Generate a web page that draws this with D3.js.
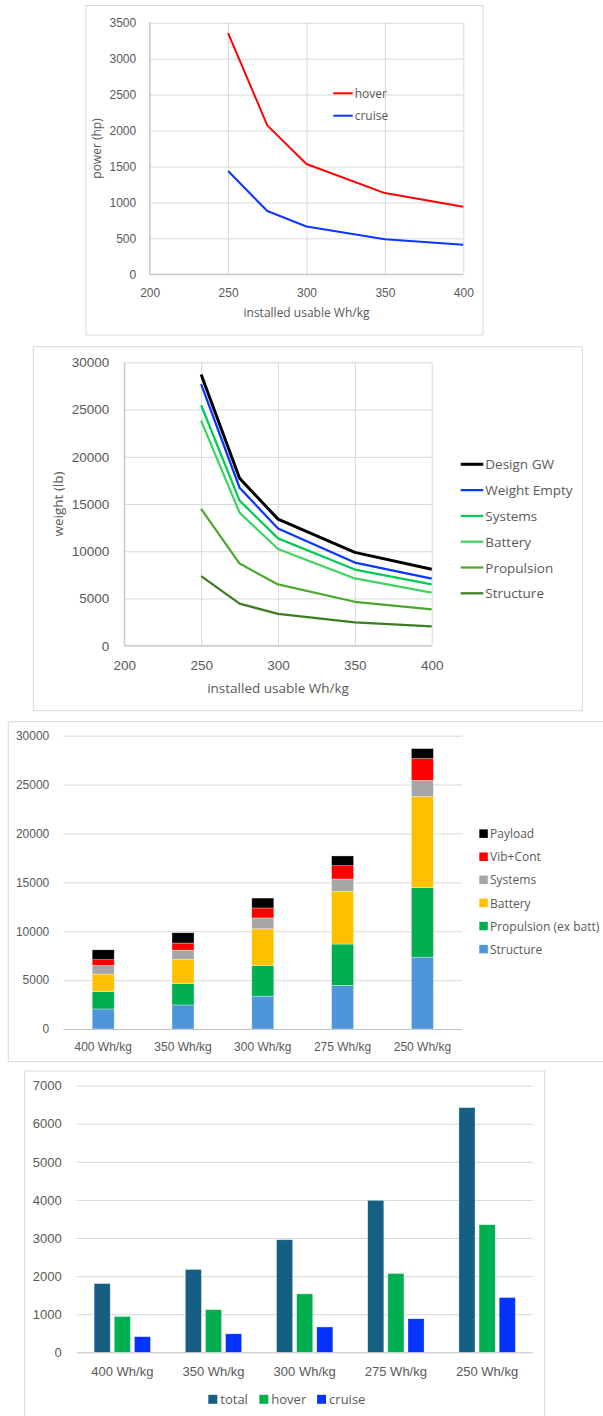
<!DOCTYPE html>
<html>
<head>
<meta charset="utf-8">
<script src="https://cdn.jsdelivr.net/npm/d3@7"></script>
<style>
  html, body { margin: 0; padding: 0; background: #fff; }
  svg { display: block; font-family: "Open Sans", sans-serif; }
  .tick text { fill: #595959; }
</style>
</head>
<body>
<svg id="page" width="603" height="1416"></svg>
<script>
// ---- Power vs battery specific energy (line chart) ----
const whPerKg = [250, 275, 300, 350, 400];
const hoverHp = [3355, 2072, 1535, 1130, 940];
const cruiseHp = [1437, 880, 665, 488, 410];
const whTicks = [200, 250, 300, 350, 400];
const powerTicks = [0, 500, 1000, 1500, 2000, 2500, 3000, 3500];

// ---- Weight build-up vs battery specific energy (line chart) ----
const designGW = [28700, 17720, 13400, 9880, 8100];
const weightEmpty = [27700, 16720, 12400, 8800, 7100];
const systemsCum = [25450, 15360, 11360, 8060, 6500];
const batteryCum = [23820, 14080, 10240, 7120, 5615];
const propulsionCum = [14480, 8690, 6490, 4650, 3835];
const structureCum = [7360, 4455, 3360, 2465, 2047];
const weightTicks = [0, 5000, 10000, 15000, 20000, 25000, 30000];

// ---- Weight breakdown (stacked bars) ----
const cases = ["400 Wh/kg", "350 Wh/kg", "300 Wh/kg", "275 Wh/kg", "250 Wh/kg"];
const structure = [2050, 2460, 3360, 4460, 7350];
const propulsionExBatt = [1790, 2190, 3130, 4230, 7110];
const battery = [1780, 2460, 3760, 5370, 9320];
const systems = [880, 955, 1110, 1280, 1650];
const vibCont = [590, 725, 1020, 1360, 2230];
const payload = [1010, 1050, 1010, 1000, 1020];

// ---- Installed power (grouped bars) ----
const totalPower = [1805, 2175, 2955, 3990, 6425];
const hoverPower = [940, 1120, 1535, 2070, 3350];
const cruisePower = [410, 485, 665, 880, 1437];
const powerBarTicks = [0, 1000, 2000, 3000, 4000, 5000, 6000, 7000];

const svg = d3.select("#page");
const TEXT = "#595959", GRID = "#d9d9d9", AXIS = "#bfbfbf", FRAME = "#d9d9d9";

function panel(x, y, w, h) {
  svg.append("rect").attr("x", x).attr("y", y).attr("width", w).attr("height", h)
    .attr("fill", "#fff").attr("stroke", FRAME).attr("stroke-width", 1);
}

function styleAxis(g, size) {
  g.select(".domain").remove();
  g.selectAll(".tick line").attr("stroke", GRID).attr("stroke-width", 1);
  g.selectAll(".tick text").attr("fill", TEXT).style("font-size", size + "px");
}

// Scatter-style line chart with value x axis
function lineChart(o) {
  panel(o.frame[0], o.frame[1], o.frame[2], o.frame[3]);
  const x = d3.scaleLinear().domain([200, 400]).range(o.xr);
  const y = d3.scaleLinear().domain(o.ydom).range(o.yr);
  const g = svg.append("g");
  const w = o.xr[1] - o.xr[0], h = o.yr[0] - o.yr[1];

  const gy = g.append("g").attr("transform", `translate(${o.xr[0]},0)`)
    .call(d3.axisLeft(y).tickValues(o.yTicks).tickSize(-w).tickPadding(o.yPad).tickFormat(d3.format("d")));
  styleAxis(gy, o.font);
  const gx = g.append("g").attr("transform", `translate(0,${o.yr[0]})`)
    .call(d3.axisBottom(x).tickValues(whTicks).tickSize(-h).tickPadding(o.xPad).tickFormat(d3.format("d")));
  styleAxis(gx, o.font);

  // axis lines
  g.append("line").attr("x1", o.xr[0]).attr("x2", o.xr[0]).attr("y1", o.yr[0]).attr("y2", o.yr[1])
    .attr("stroke", AXIS);
  g.append("line").attr("x1", o.xr[0]).attr("x2", o.xr[1]).attr("y1", o.yr[0]).attr("y2", o.yr[0])
    .attr("stroke", AXIS);

  g.append("text").attr("x", (o.xr[0] + o.xr[1]) / 2).attr("y", o.xTitleY)
    .attr("text-anchor", "middle").attr("dominant-baseline", "central")
    .attr("fill", TEXT).style("font-size", o.font + "px").text("installed usable Wh/kg");
  g.append("text").attr("transform", `translate(${o.yTitleX},${(o.yr[0] + o.yr[1]) / 2}) rotate(-90)`)
    .attr("text-anchor", "middle").attr("dominant-baseline", "central")
    .attr("fill", TEXT).style("font-size", o.font + "px").text(o.yTitle);

  const line = d3.line().x((d, i) => x(whPerKg[i])).y(d => y(d));
  // draw bottom series first so upper ones sit on top
  o.series.slice().reverse().forEach(s => {
    g.append("path").attr("d", line(s.values)).attr("fill", "none")
      .attr("stroke", s.color).attr("stroke-width", s.width)
      .attr("stroke-linejoin", "round").attr("stroke-linecap", "butt");
  });

  const lg = g.append("g");
  o.series.forEach((s, i) => {
    const yy = o.legend.y + i * o.legend.dy;
    lg.append("line").attr("x1", o.legend.x).attr("x2", o.legend.x + o.legend.len)
      .attr("y1", yy).attr("y2", yy).attr("stroke", s.color).attr("stroke-width", s.width);
    lg.append("text").attr("x", o.legend.x + o.legend.len + 2).attr("y", yy)
      .attr("dominant-baseline", "central").attr("fill", TEXT)
      .style("font-size", o.legend.font + "px").text(s.name);
  });
}

lineChart({
  frame: [86, 5.5, 397, 329.5],
  xr: [149.7, 463.3], yr: [274.3, 22.7], ydom: [0, 3500], yTicks: powerTicks,
  font: 12, yPad: 13.5, xPad: 14, xTitleY: 312.5, yTitleX: 96.5, yTitle: "power (hp)",
  series: [
    { name: "hover", values: hoverHp, color: "#ff0000", width: 2 },
    { name: "cruise", values: cruiseHp, color: "#0a36ff", width: 2 }
  ],
  legend: { x: 333.3, y: 93.3, dy: 22.4, len: 19.4, font: 12 }
});

lineChart({
  frame: [33.3, 346.7, 549, 364],
  xr: [124.3, 431.7], yr: [645.7, 362.3], ydom: [0, 30000], yTicks: weightTicks,
  font: 13.5, yPad: 15, xPad: 15, xTitleY: 688.3, yTitleX: 58, yTitle: "weight (lb)",
  series: [
    { name: "Design GW", values: designGW, color: "#000000", width: 3 },
    { name: "Weight Empty", values: weightEmpty, color: "#0a36ff", width: 2.25 },
    { name: "Systems", values: systemsCum, color: "#00cc55", width: 2.25 },
    { name: "Battery", values: batteryCum, color: "#3fd35f", width: 2.25 },
    { name: "Propulsion", values: propulsionCum, color: "#4ea72e", width: 2.25 },
    { name: "Structure", values: structureCum, color: "#3b7d23", width: 2.25 }
  ],
  legend: { x: 460.7, y: 464.3, dy: 25.8, len: 22.6, font: 13.5 }
});

// ---- Stacked bar chart ----
(function () {
  panel(8.3, 721.7, 620, 340);
  const xr = [63.3, 462.3], yr = [1029, 735.7];
  const x = d3.scaleBand().domain(cases).range(xr).paddingInner(0.724).paddingOuter(0.362);
  const y = d3.scaleLinear().domain([0, 30000]).range(yr);
  const g = svg.append("g");

  const gy = g.append("g").attr("transform", `translate(${xr[0]},0)`)
    .call(d3.axisLeft(y).tickValues(weightTicks).tickSize(-(xr[1] - xr[0])).tickPadding(14).tickFormat(d3.format("d")));
  styleAxis(gy, 12);
  gy.selectAll(".tick line").attr("stroke", d => d === 0 ? AXIS : GRID);

  const gx = g.append("g").attr("transform", `translate(0,${yr[0]})`)
    .call(d3.axisBottom(x).tickSize(0).tickPadding(13));
  styleAxis(gx, 12);

  const keys = ["Structure", "Propulsion (ex batt)", "Battery", "Systems", "Vib+Cont", "Payload"];
  const cols = [structure, propulsionExBatt, battery, systems, vibCont, payload];
  const colors = ["#4e95d9", "#00b050", "#ffc000", "#a6a6a6", "#ff0000", "#000000"];
  const rows = cases.map((c, i) => {
    const r = { case: c };
    keys.forEach((k, j) => r[k] = cols[j][i]);
    return r;
  });
  const stacked = d3.stack().keys(keys)(rows);
  stacked.forEach((layer, j) => {
    g.append("g").selectAll("rect").data(layer).join("rect")
      .attr("x", d => x(d.data.case)).attr("width", x.bandwidth())
      .attr("y", d => y(d[1])).attr("height", d => y(d[0]) - y(d[1]))
      .attr("fill", colors[j]).attr("stroke", "#ffffff").attr("stroke-opacity", 0.55).attr("stroke-width", 0.6);
  });

  // legend, top entry is the last stacked series
  const lg = g.append("g");
  keys.slice().reverse().forEach((k, i) => {
    const yy = 833.7 + i * 23.1;
    lg.append("rect").attr("x", 479.3).attr("y", yy - 4.3).attr("width", 8.5).attr("height", 8.5)
      .attr("fill", colors[keys.indexOf(k)]);
    lg.append("text").attr("x", 490).attr("y", yy).attr("dominant-baseline", "central")
      .attr("fill", TEXT).style("font-size", "12px").text(k);
  });
})();

// ---- Grouped bar chart ----
(function () {
  panel(24.7, 1071, 520, 380);
  const xr = [76.7, 532.7], yr = [1352.3, 1085.7];
  const x0 = d3.scaleBand().domain(cases).range(xr).paddingInner(0.382).paddingOuter(0.191);
  const names = ["total", "hover", "cruise"];
  const x1 = d3.scaleBand().domain(names).range([0, x0.bandwidth()]).paddingInner(0.2);
  const y = d3.scaleLinear().domain([0, 7000]).range(yr);
  const g = svg.append("g");

  const gy = g.append("g").attr("transform", `translate(${xr[0]},0)`)
    .call(d3.axisLeft(y).tickValues(powerBarTicks).tickSize(-(xr[1] - xr[0])).tickPadding(15).tickFormat(d3.format("d")));
  styleAxis(gy, 13);
  gy.selectAll(".tick line").attr("stroke", d => d === 0 ? AXIS : GRID);

  const gx = g.append("g").attr("transform", `translate(0,${yr[0]})`)
    .call(d3.axisBottom(x0).tickSize(0).tickPadding(14));
  styleAxis(gx, 13);

  const cols = [totalPower, hoverPower, cruisePower];
  const colors = ["#156082", "#00b050", "#0432ff"];
  names.forEach((n, j) => {
    g.append("g").selectAll("rect").data(cases).join("rect")
      .attr("x", c => x0(c) + x1(n)).attr("width", x1.bandwidth())
      .attr("y", (c, i) => y(cols[j][i])).attr("height", (c, i) => y(0) - y(cols[j][i]))
      .attr("fill", colors[j]).attr("stroke", "#ffffff").attr("stroke-opacity", 0.55).attr("stroke-width", 0.6);
  });

  const legendX = [208.3, 259.3, 317.1];
  const lg = g.append("g");
  names.forEach((n, j) => {
    lg.append("rect").attr("x", legendX[j]).attr("y", 1399.3 - 4.5).attr("width", 9).attr("height", 9)
      .attr("fill", colors[j]);
    lg.append("text").attr("x", legendX[j] + 12).attr("y", 1399.3).attr("dominant-baseline", "central")
      .attr("fill", TEXT).style("font-size", "13px").text(n);
  });
})();
</script>
</body>
</html>
